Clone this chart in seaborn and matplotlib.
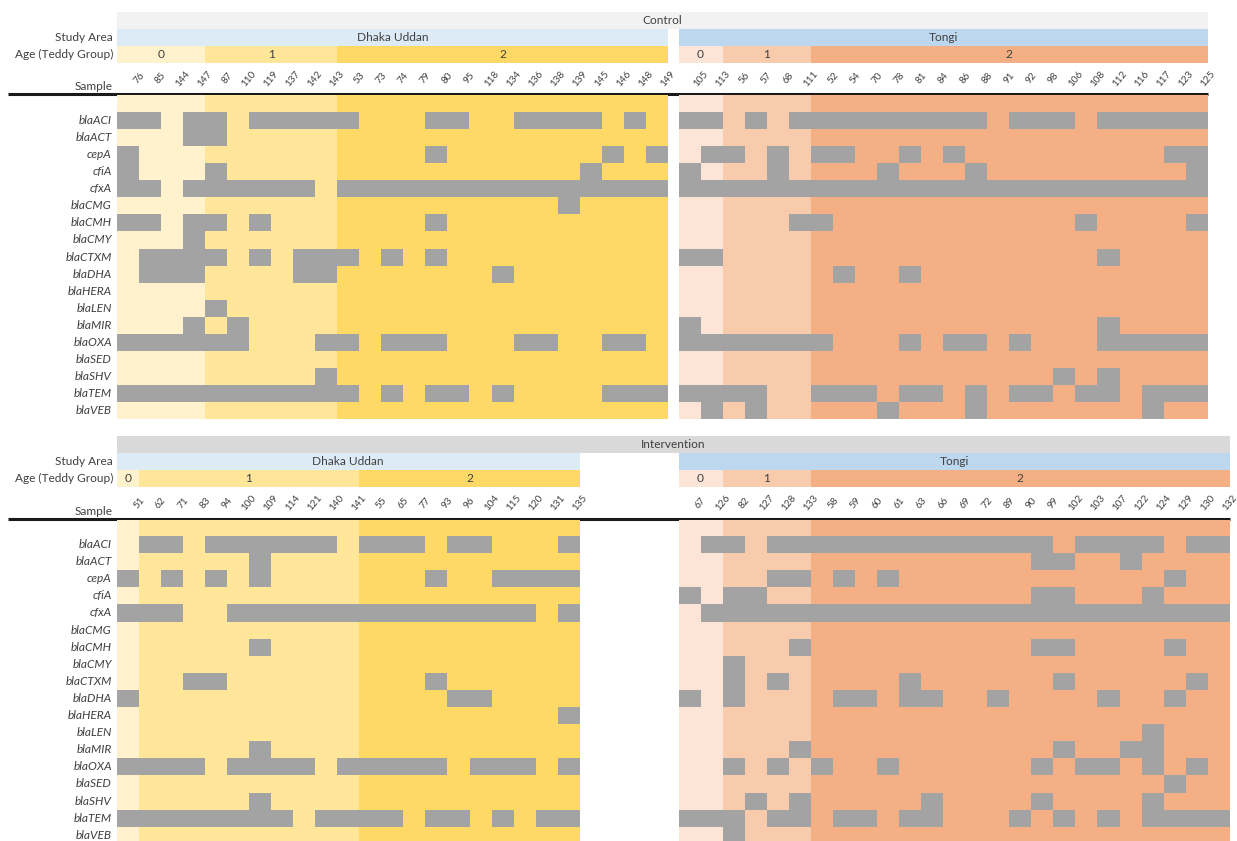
import numpy as np
import pandas as pd
import seaborn as sns
import matplotlib.pyplot as plt
from matplotlib.colors import ListedColormap
from matplotlib.patches import Rectangle

sns.set_style('white')
plt.rcParams['font.family'] = ['Lato', 'DejaVu Sans']

genes = ['blaACI', 'blaACT', 'cepA', 'cfiA', 'cfxA', 'blaCMG', 'blaCMH', 'blaCMY', 'blaCTXM',
         'blaDHA', 'blaHERA', 'blaLEN', 'blaMIR', 'blaOXA', 'blaSED', 'blaSHV', 'blaTEM', 'blaVEB']

# ---- Control ----
ctrl_dhaka_samples = [76, 85, 144, 147, 87, 110, 119, 137, 142, 143, 53, 73, 74, 79, 80, 95,
                      118, 134, 136, 138, 139, 145, 146, 148, 149]
ctrl_dhaka_ages = [4, 6, 15]   # samples in teddy group 0, 1, 2
ctrl_dhaka = [
    '11011 01111 10001 10011 11010',  # blaACI
    '00011 00000 00000 00000 00000',  # blaACT
    '10000 00000 00001 00000 00101',  # cepA
    '10001 00000 00000 00000 01000',  # cfiA
    '11011 11110 11111 11111 11111',  # cfxA
    '00000 00000 00000 00000 10000',  # blaCMG
    '11011 01000 00001 00000 00000',  # blaCMH
    '00010 00000 00000 00000 00000',  # blaCMY
    '01111 01011 10101 00000 00000',  # blaCTXM
    '01110 00011 00000 00100 00000',  # blaDHA
    '00000 00000 00000 00000 00000',  # blaHERA
    '00001 00000 00000 00000 00000',  # blaLEN
    '00010 10000 00000 00000 00000',  # blaMIR
    '11111 10001 10111 00011 00110',  # blaOXA
    '00000 00000 00000 00000 00000',  # blaSED
    '00000 00001 00000 00000 00000',  # blaSHV
    '11111 11111 10101 10100 00111',  # blaTEM
    '00000 00000 00000 00000 00000',  # blaVEB
]

ctrl_tongi_samples = [105, 113, 56, 57, 68, 111, 52, 54, 70, 78, 81, 84, 86, 88, 91, 92, 98,
                      106, 108, 112, 116, 117, 123, 125]
ctrl_tongi_ages = [2, 4, 18]
ctrl_tongi = [
    '11010 11111 11110 11101 1111',
    '00000 00000 00000 00000 0000',
    '01101 01100 10100 00000 0011',
    '10001 00001 00010 00000 0001',
    '11111 11111 11111 11111 1111',
    '00000 00000 00000 00000 0000',
    '00000 11000 00000 00010 0001',
    '00000 00000 00000 00000 0000',
    '11000 00000 00000 00001 0000',
    '00000 00100 10000 00000 0000',
    '00000 00000 00000 00000 0000',
    '00000 00000 00000 00000 0000',
    '10000 00000 00000 00001 0000',
    '11111 11000 10110 10001 1111',
    '00000 00000 00000 00000 0000',
    '00000 00000 00000 00101 0000',
    '11110 01110 11010 11011 0111',
    '01010 00001 00010 00000 0100',
]

# ---- Intervention ----
int_dhaka_samples = [51, 62, 71, 83, 94, 100, 109, 114, 121, 140, 141, 55, 65, 77, 93, 96,
                     104, 115, 120, 131, 135]
int_dhaka_ages = [1, 10, 10]
int_dhaka = [
    '01101 11111 01110 11000 1',
    '00000 01000 00000 00000 0',
    '10101 01000 00001 00111 1',
    '00000 00000 00000 00000 0',
    '11100 11111 11111 11110 1',
    '00000 00000 00000 00000 0',
    '00000 01000 00000 00000 0',
    '00000 00000 00000 00000 0',
    '00011 00000 00001 00000 0',
    '10000 00000 00000 11000 0',
    '00000 00000 00000 00000 1',
    '00000 00000 00000 00000 0',
    '00000 01000 00000 00000 0',
    '11110 11110 11111 01110 1',
    '00000 00000 00000 00000 0',
    '00000 01000 00000 00000 0',
    '11111 11101 11101 10101 1',
    '00000 00000 00000 00000 0',
]

int_tongi_samples = [67, 126, 82, 127, 128, 133, 58, 59, 60, 61, 63, 66, 69, 72, 89, 90, 99,
                     102, 103, 107, 122, 124, 129, 130, 132]
int_tongi_ages = [2, 4, 19]
int_tongi = [
    '01101 11111 11111 11011 11011',
    '00000 00000 00000 01100 10000',
    '00001 10101 00000 00000 00100',
    '10110 00000 00000 01100 01000',
    '01111 11111 11111 11111 11111',
    '00000 00000 00000 00000 00000',
    '00000 10000 00000 01100 00100',
    '00100 00000 00000 00000 00000',
    '00101 00000 10000 00100 00010',
    '10100 00110 11001 00001 00100',
    '00000 00000 00000 00000 00000',
    '00000 00000 00000 00000 01000',
    '00000 10000 00000 00100 11000',
    '00101 01001 00000 01011 01010',
    '00000 00000 00000 00000 00100',
    '00010 10000 01000 01000 01000',
    '11101 10110 11000 10101 01111',
    '00100 00000 00000 00000 00000',
]

dhaka_ages_colors = ['#fff2cc', '#ffe699', '#ffd966']
tongi_ages_colors = ['#fce4d6', '#f8cbad', '#f4b084']
dhaka_area_color = '#ddebf7'
tongi_area_color = '#bdd7ee'
txt = '#404040'
FS = 8.6


def to_frame(rows, samples):
    m = [[int(c) for c in r.replace(' ', '')] for r in rows]
    return pd.DataFrame(m, index=genes, columns=samples)


# layout in pixels
W, H = 1237, 841
COL, ROW = 22.05, 17.1
DHAKA_X, TONGI_X = 116.7, 678.5

fig = plt.figure(figsize=(W / 100, H / 100), dpi=100)
over = fig.add_axes([0, 0, 1, 1])
over.set_xlim(0, W)
over.set_ylim(H, 0)
over.axis('off')


def draw_block(df, ages, area, age_colors, area_color, x0, row0, y_bottom, show_genes):
    ncol = df.shape[1]
    top = row0 - 5.85 * ROW
    ax = fig.add_axes([x0 / W, 1 - y_bottom / H, ncol * COL / W, (y_bottom - top) / H])
    ax.patch.set_alpha(0)
    ybot = (y_bottom - row0) / ROW

    # study area header
    ax.add_patch(Rectangle((0, -4.85), ncol, 1, color=area_color, lw=0, zorder=0))
    ax.text(ncol / 2, -4.35, area, ha='center', va='center', fontsize=FS, color=txt)

    # teddy group header + background
    start = 0
    for g, n in enumerate(ages):
        ax.add_patch(Rectangle((start, -3.85), n, 1, color=age_colors[g], lw=0, zorder=0))
        ax.add_patch(Rectangle((start, -0.95), n, ybot + 0.95, color=age_colors[g], lw=0, zorder=0))
        ax.text(start + n / 2, -3.35, str(g), ha='center', va='center', fontsize=FS, color=txt)
        start += n

    sns.heatmap(df, mask=(df == 0), cmap=ListedColormap(['#a3a3a3']), cbar=False,
                linewidths=0, ax=ax)
    ax.set_ylim(ybot, -5.85)
    ax.set_xlim(0, ncol)
    ax.set_xticks([])
    ax.set_xlabel('')
    ax.set_ylabel('')

    for i, s in enumerate(df.columns):
        ax.text(i + 1, -1.95, str(s), rotation=50, ha='center', va='center',
                fontsize=7.2, color=txt, clip_on=False)

    if show_genes:
        ax.set_yticks(np.arange(len(genes)) + 0.5)
        ax.set_yticklabels(genes, fontstyle='italic', fontsize=FS, color=txt, rotation=0)
        ax.tick_params(axis='y', length=0, pad=3.5)
    else:
        ax.set_yticks([])
    return ncol


panels = [
    ('Control', '#f2f2f2', 111.7, 419.5,
     (ctrl_dhaka, ctrl_dhaka_samples, ctrl_dhaka_ages),
     (ctrl_tongi, ctrl_tongi_samples, ctrl_tongi_ages)),
    ('Intervention', '#d9d9d9', 536.0, 841.0,
     (int_dhaka, int_dhaka_samples, int_dhaka_ages),
     (int_tongi, int_tongi_samples, int_tongi_ages)),
]

for title, tcolor, row0, ybottom, dh, tg in panels:
    draw_block(to_frame(dh[0], dh[1]), dh[2], 'Dhaka Uddan', dhaka_ages_colors,
               dhaka_area_color, DHAKA_X, row0, ybottom, True)
    n_t = draw_block(to_frame(tg[0], tg[1]), tg[2], 'Tongi', tongi_ages_colors,
                     tongi_area_color, TONGI_X, row0, ybottom, False)
    right = TONGI_X + n_t * COL
    ttop = row0 - 5.85 * ROW
    over.add_patch(Rectangle((DHAKA_X, ttop), right - DHAKA_X, ROW, color=tcolor, lw=0))
    over.text((DHAKA_X + right) / 2, ttop + ROW / 2, title, ha='center', va='center',
              fontsize=FS, color=txt)
    over.text(113, ttop + 1.5 * ROW, 'Study Area', ha='right', va='center', fontsize=FS, color=txt)
    over.text(113, ttop + 2.5 * ROW, 'Age (Teddy Group)', ha='right', va='center',
              fontsize=FS, color=txt)
    over.text(113, row0 - 1.45 * ROW, 'Sample', ha='right', va='center', fontsize=FS, color=txt)
    over.plot([8, right], [row0 - 17.5, row0 - 17.5], color='#1a1a1a', lw=2.2,
              solid_capstyle='butt')

fig.savefig('out.png', dpi=100)
